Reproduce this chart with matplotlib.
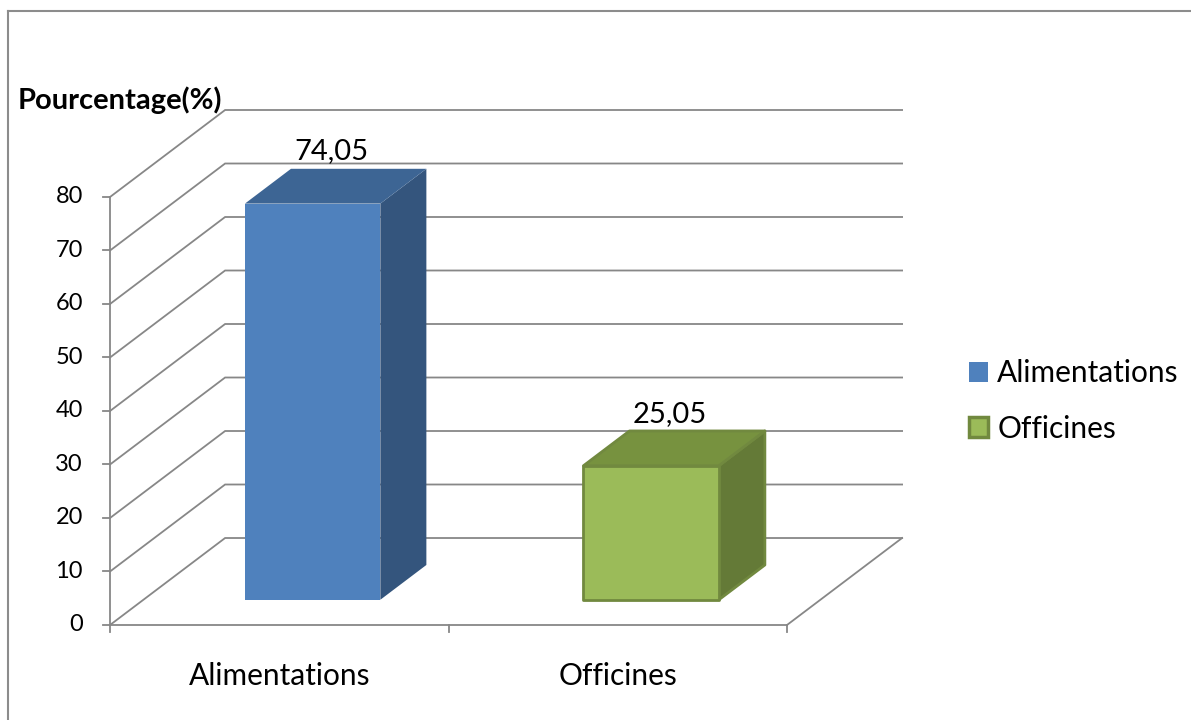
import matplotlib
matplotlib.use('Agg')
import matplotlib.pyplot as plt
from matplotlib.patches import Polygon, Patch
from matplotlib.lines import Line2D

plt.rcParams['font.family'] = ['Lato', 'DejaVu Sans']

categories = ['Alimentations', 'Officines']
values = [74.05, 25.05]
value_labels = ['74,05', '25,05']
yticks = [0, 10, 20, 30, 40, 50, 60, 70, 80]
ylabel = 'Pourcentage(%)'

front = ['#4F81BD', '#9BBB59']
side = ['#34557D', '#647A37']
top = ['#3D6594', '#77923F']
edge = [None, '#71893F']

# depth vector of the 3d box (in category / value units)
DX, DY = 0.34, 16.26
D0, D1 = 0.29, 0.69   # front / back of the bars as fraction of depth
W = 0.2               # half width of bars
grid_c = '#878787'

fig = plt.figure(figsize=(11.91, 7.2), dpi=100)
ax = fig.add_axes([0, 0, 1, 1])
ax.set_xlim(-0.325, 3.1935)
ax.set_ylim(-17.757, 116.82)
ax.axis('off')


def p(x, y, d):
    return (x + d * DX, y + d * DY)


n = len(categories)
ymax = yticks[-1]

# gridlines: front left edge -> diagonal -> back wall
for t in yticks:
    x0, y0 = p(0, t, 0)
    x1, y1 = p(0, t, 1)
    x2, y2 = p(n, t, 1)
    ax.plot([x0, x1, x2], [y0, y1, y2], color=grid_c, lw=1.3, zorder=1,
            solid_joinstyle='miter')
    ax.plot([-0.02, 0], [t, t], color=grid_c, lw=1.3, zorder=1)
    ax.text(-0.08, t, str(t), ha='right', va='center', fontsize=17)

# floor front edge and right diagonal
ax.plot([0, n], [0, 0], color=grid_c, lw=1.3, zorder=1)
xa, ya = p(n, 0, 1)
ax.plot([n, xa], [0, ya], color=grid_c, lw=1.3, zorder=1)
# value axis line
ax.plot([0, 0], [0, ymax], color=grid_c, lw=1.3, zorder=1)
# category ticks
for i in range(n + 1):
    ax.plot([i, i], [0, -1.3], color=grid_c, lw=1.3, zorder=1)

for i, (c, v) in enumerate(zip(categories, values)):
    cx = i + 0.5
    l, r = cx - W, cx + W
    fr = [p(l, 0, D0), p(r, 0, D0), p(r, v, D0), p(l, v, D0)]
    sd = [p(r, 0, D0), p(r, 0, D1), p(r, v, D1), p(r, v, D0)]
    tp = [p(l, v, D0), p(r, v, D0), p(r, v, D1), p(l, v, D1)]
    ec = edge[i] if edge[i] else 'none'
    lw = 2 if edge[i] else 0
    for poly, col in ((sd, side[i]), (tp, top[i]), (fr, front[i])):
        ax.add_patch(Polygon(poly, closed=True, facecolor=col, edgecolor=ec,
                             lw=lw, joinstyle='round', zorder=3))
    lx, ly = p(cx, v, 0.5)
    ax.text(lx - 0.015, ly + 3.9, value_labels[i], ha='center', va='bottom',
            fontsize=21)
    ax.text(cx, -9.5, c, ha='center', va='center', fontsize=21.5)

ax.text(-0.273, 98.0, ylabel, ha='left', va='center', fontsize=21,
        fontweight='bold')

handles = [Patch(facecolor=front[0], edgecolor='none'),
           Patch(facecolor=front[1], edgecolor=edge[1], lw=2.5)]
ax.legend(handles, categories, loc='center left',
          bbox_to_anchor=(942 / 1191, 1 - 401 / 720), frameon=False,
          fontsize=21.5, handlelength=0.65, handleheight=0.65,
          handletextpad=0.3, labelspacing=0.92)

# outer chart border
fig.add_artist(Line2D([8 / 1191, 8 / 1191], [0, 1 - 11 / 720],
                      color='#8C8C8C', lw=1.5))
fig.add_artist(Line2D([8 / 1191, 1], [1 - 11 / 720, 1 - 11 / 720],
                      color='#8C8C8C', lw=1.5))

fig.savefig('out.png', dpi=100)
